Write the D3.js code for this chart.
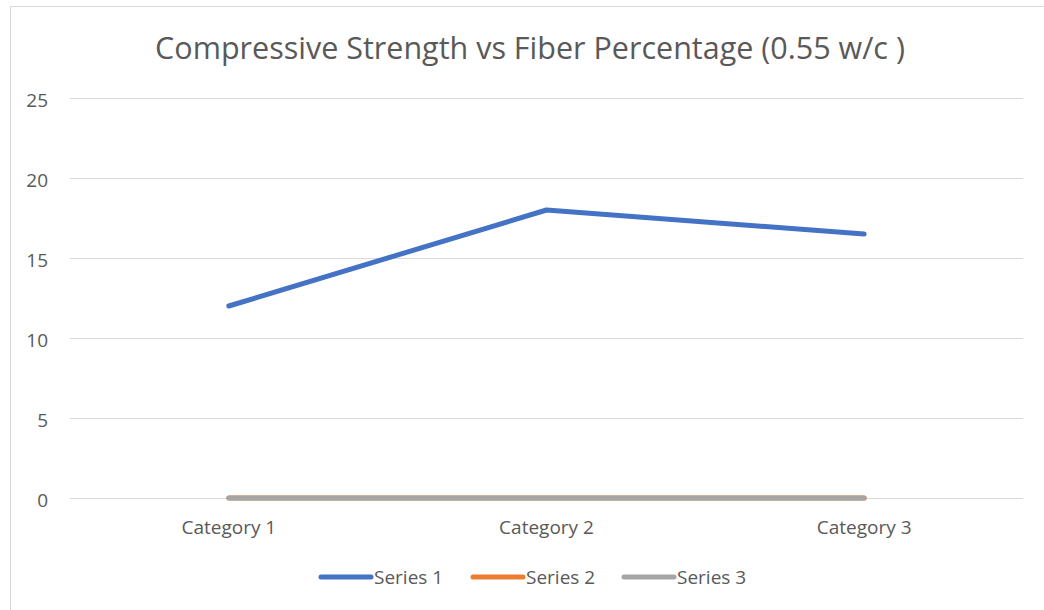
<!DOCTYPE html>
<html><head><meta charset="utf-8">
<script src="https://cdn.jsdelivr.net/npm/d3@7"></script>
<style>
html,body{margin:0;padding:0;background:#fff;}
svg{display:block;}
text{font-family:"Open Sans","Noto Sans",sans-serif;fill:#595959;}
</style></head>
<body>
<svg id="chart" width="1044" height="610"></svg>
<script>
const title = "Compressive Strength vs Fiber Percentage (0.55 w/c )";
const categories = ["Category 1", "Category 2", "Category 3"];
const seriesNames = ["Series 1", "Series 2", "Series 3"];
const series1 = [12, 18, 16.5];
const series2 = [0, 0, 0];
const series3 = [0, 0, 0];
const yTicks = [0, 5, 10, 15, 20, 25];
const colors = ["#4472C4", "#ED7D31", "#A5A5A5"];

const svg = d3.select("#chart");
const plotLeft = 70, plotRight = 1023, plotTop = 98, plotBottom = 498;
const fs = 19;

// chart border
svg.append("rect").attr("x", 10.5).attr("y", 6.5).attr("width", 1040).attr("height", 610)
  .attr("fill", "none").attr("stroke", "#D9D9D9").attr("stroke-width", 1);

const x = d3.scaleBand().domain(categories).range([plotLeft, plotRight]);
const y = d3.scaleLinear().domain([0, 25]).range([plotBottom, plotTop]);

// gridlines
svg.append("g").selectAll("line").data(yTicks).join("line")
  .attr("x1", plotLeft).attr("x2", plotRight)
  .attr("y1", d => Math.round(y(d)) + 0.5).attr("y2", d => Math.round(y(d)) + 0.5)
  .attr("stroke", "#D9D9D9").attr("stroke-width", 1);

// y axis labels
const yAxis = d3.axisLeft(y).tickValues(yTicks).tickSize(0).tickPadding(0);
const yg = svg.append("g").attr("transform", `translate(48,0)`).call(yAxis);
yg.select(".domain").remove();
yg.selectAll("text").attr("font-size", fs).attr("fill", "#595959")
  .attr("font-family", '"Open Sans",sans-serif').attr("text-anchor", "end")
  .attr("x", 0).attr("dy", 0).attr("y", 8);

// x axis labels
const xAxis = d3.axisBottom(x).tickSize(0).tickPadding(0);
const xg = svg.append("g").attr("transform", `translate(0,${plotBottom})`).call(xAxis);
xg.select(".domain").remove();
xg.selectAll("text").attr("font-size", fs).attr("fill", "#595959")
  .attr("font-family", '"Open Sans",sans-serif').attr("dy", 0).attr("y", 36);

// lines
const allSeries = [series1, series2, series3];
const line = d3.line().x((d, i) => x(categories[i]) + x.bandwidth() / 2).y(d => y(d));
allSeries.forEach((s, k) => {
  svg.append("path").datum(s).attr("d", line)
    .attr("fill", "none").attr("stroke", colors[k]).attr("stroke-width", 5)
    .attr("stroke-linecap", "round").attr("stroke-linejoin", "round");
});

// title
svg.append("text").attr("x", 530).attr("y", 59).attr("text-anchor", "middle")
  .attr("font-size", 30.5).attr("fill", "#595959").text(title);

// legend
const legendX = [321, 473, 624];
const lg = svg.append("g");
seriesNames.forEach((n, k) => {
  lg.append("line").attr("x1", legendX[k]).attr("x2", legendX[k] + 50)
    .attr("y1", 577).attr("y2", 577).attr("stroke", colors[k]).attr("stroke-width", 5)
    .attr("stroke-linecap", "round");
  lg.append("text").attr("x", legendX[k] + 53).attr("y", 584)
    .attr("font-size", fs).text(n);
});
</script>
</body></html>
